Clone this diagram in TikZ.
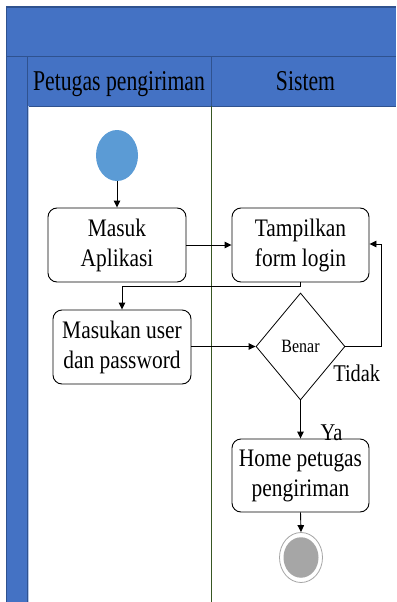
\documentclass[tikz,border=0pt]{standalone}
\usepackage{fontspec}
\setmainfont{Liberation Serif}
\newfontfamily\hdrfont{Liberation Serif}[FakeStretch=0.756]
\newfontfamily\boxfont{Liberation Serif}[FakeStretch=0.85]
\usetikzlibrary{shapes.geometric,arrows.meta}
\definecolor{laneblue}{HTML}{4472C4}
\definecolor{laneedge}{HTML}{2F528F}
\definecolor{divgreen}{HTML}{385723}
\definecolor{startblue}{HTML}{5B9BD5}
\definecolor{endgray}{HTML}{A6A6A6}
\begin{document}
\begin{tikzpicture}[x=1pt,y=-1pt,
  hdr/.style={font=\hdrfont\fontsize{28.7}{34}\selectfont, inner sep=0pt, anchor=base},
  act/.style={draw=black, line width=0.9pt, rounded corners=9pt, fill=white,
    align=center, inner sep=0pt, font=\boxfont\fontsize{25.2}{30}\selectfont},
  decision/.style={draw=black, line width=0.8pt, diamond, inner sep=0pt,
    minimum width=89pt, minimum height=107pt, font=\boxfont\fontsize{18.8}{22}\selectfont},
  guard/.style={font=\boxfont\fontsize{24}{28}\selectfont, inner sep=0pt, anchor=base},
  flow/.style={draw=black, line width=0.9pt, -{Triangle[length=7pt,width=6.5pt]}},
  wire/.style={draw=black, line width=0.9pt}]
\useasboundingbox (0,0) rectangle (396,602);

% swimlane frame
\fill[laneblue] (6.5,7) rectangle (396,56.5);
\fill[laneblue] (27,56.5) rectangle (396,106);
\fill[laneblue] (6.5,56.5) rectangle (27,602);
\draw[laneedge, line width=1.2pt] (6.5,602) -- (6.5,7) -- (396,7);
\draw[laneedge, line width=1.5pt] (6.5,56.5) -- (396,56.5);
\draw[laneedge, line width=1pt] (27,602) -- (27,56.5);
\draw[laneedge, line width=1pt] (27,106) -- (396,106);
\draw[laneedge, line width=1pt] (211,56.5) -- (211,106);
\draw[laneblue!40, line width=0.8pt] (28,106) -- (28,602);
\draw[divgreen, line width=1pt] (211,106) -- (211,602);

\node[hdr] (laneA) at (119,90.7) {Petugas pengiriman};
\node[hdr] (laneB) at (305.5,90.7) {Sistem};

% activity nodes
\node[ellipse, fill=startblue, minimum width=42pt, minimum height=51pt, inner sep=0pt] (start) at (117,155.5) {};
\node[act, minimum width=138pt, minimum height=74pt] (masuk) at (117,245) {Masuk\\Aplikasi};
\node[act, minimum width=137pt, minimum height=74pt] (form) at (300.5,245) {Tampilkan\\form login};
\node[act, minimum width=138pt, minimum height=74pt] (input) at (122,347) {Masukan user\\dan password};
\node[decision] (cek) at (300.5,346.5) {Benar};
\node[act, minimum width=137pt, minimum height=73pt] (home) at (300.5,475.5) {Home petugas\\pengiriman};
\node[ellipse, draw=endgray, line width=0.8pt, fill=white, minimum width=43pt, minimum height=50pt, inner sep=0pt] (end) at (301,557.5) {};
\node[ellipse, fill=endgray, minimum width=35pt, minimum height=40.5pt, inner sep=0pt] (endcore) at (end.center) {};

% connectors
\coordinate (j1) at (300.5,286);
\coordinate (j2) at (122,286);
\coordinate (r1) at (381.5,346.5);
\coordinate (r2) at (381.5,244);

\draw[flow] (start) -- (masuk);
\draw[flow] (masuk) -- (form);
\draw[flow] (form.south) -- (j1) -- (j2) -- (input.north);
\draw[flow] (input.east |- cek.west) -- (cek.west);
\draw[flow] (cek.east) -- (r1) -- (r2) -- (form.east |- r2);
\draw[flow] (cek.south) -- (home.north);
\draw[flow] (home.south) -- (end.north);

\node[guard] (tidak) at (356.7,381.7) {Tidak};
\node[guard] (ya) at (331.5,440) {Ya};
\end{tikzpicture}
\end{document}
